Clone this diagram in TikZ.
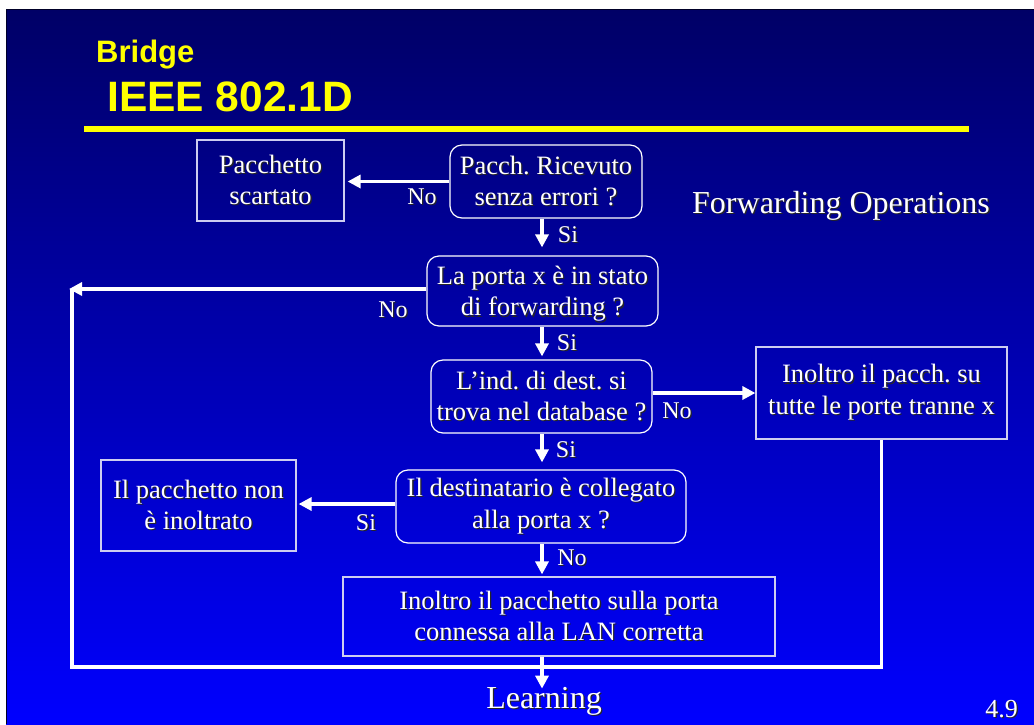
\documentclass[tikz,border=0pt]{standalone}
\usepackage{fontspec}
\setmainfont{Liberation Serif}
\newfontfamily\titlefont{Liberation Sans}
\usetikzlibrary{arrows.meta}

\definecolor{slidetop}{RGB}{0,0,102}
\definecolor{slidebot}{RGB}{0,0,255}
\definecolor{titleyellow}{RGB}{255,255,0}
\definecolor{boxline}{RGB}{205,205,240}
\definecolor{slideedge}{RGB}{0,0,40}

% white text with a small dark drop shadow
\newcommand\shtext[1]{\makebox[0pt][l]{\kern1.3pt\raisebox{-1.3pt}{\textcolor{black!85}{#1}}}#1}
\newcommand\bodyfont{\fontsize{26.5}{31.5}\selectfont}
\newcommand\lblfont{\fontsize{24}{28}\selectfont}
\frenchspacing

\begin{document}
\begin{tikzpicture}[x=1pt,y=-1pt,
  box/.style={draw=boxline, line width=1.2pt, text=white, align=center,
              font=\bodyfont, inner sep=0pt},
  rbox/.style={box, draw=white, rounded corners=12pt},
  lbl/.style={text=white, font=\lblfont, anchor=base, inner sep=0pt},
  flow/.style={draw=white, line width=3.2pt},
  arr/.style={flow, -{Triangle[length=13pt,width=13pt]}},
  bigtext/.style={text=white, font=\fontsize{32}{38}\selectfont, inner sep=0pt}]

\useasboundingbox (0,0) rectangle (1034,724);
\fill[white] (0,0) rectangle (1034,724);

% slide background
\shade[top color=slidetop, bottom color=slidebot] (6,9) rectangle (1034,724);
\draw[slideedge, line width=1pt] (6.5,724) -- (6.5,9.5) -- (1034,9.5);

% title
\node[anchor=base west, text=titleyellow, inner sep=0pt,
      font=\titlefont\bfseries\fontsize{31}{36}\selectfont] (ttlA) at (96,62) {Bridge};
\node[anchor=base west, text=titleyellow, inner sep=0pt,
      font=\titlefont\bfseries\fontsize{42.5}{48}\selectfont] (ttlB) at (107,111) {IEEE 802.1D};
\draw[titleyellow, line width=6pt] (84,129) -- (969,129);

\node[bigtext, anchor=base west] (fwd) at (692,213) {\shtext{Forwarding Operations}};

% flowchart boxes
\node[box, minimum width=147pt, minimum height=81pt] (scart) at (270.5,180.5)
  {\shtext{Pacchetto}\\\shtext{scartato}};
\node[rbox, minimum width=192pt, minimum height=73pt] (ricev) at (546,181.5)
  {\shtext{Pacch. Ricevuto}\\\shtext{senza errori ?}};
\node[rbox, minimum width=231pt, minimum height=70pt] (porta) at (542.5,291)
  {\shtext{La porta x è in stato}\\\smash{\shtext{di forwarding ?}}};
\node[rbox, minimum width=221pt, minimum height=73pt] (ind) at (541.5,396.5)
  {\shtext{L’ind. di dest. si}\\\shtext{trova nel database ?}};
\node[box, minimum width=251pt, minimum height=92pt] (tutte) at (881.5,393)
  {\shtext{Inoltro il pacch. su}\\\shtext{tutte le porte tranne x}};
\node[rbox, minimum width=290pt, minimum height=73pt] (dest) at (541,506.5)
  {\shtext{Il destinatario è collegato}\\\shtext{alla porta x ?}};
\node[box, minimum width=195pt, minimum height=91pt] (non) at (198.5,505.5)
  {\shtext{Il pacchetto non}\\\shtext{è inoltrato}};
\node[box, minimum width=432pt, minimum height=79pt] (lan) at (559,616.5)
  {\shtext{Inoltro il pacchetto sulla porta}\\\shtext{connessa alla LAN corretta}};

\node[bigtext, anchor=base] (learn) at (544,708) {\shtext{Learning}};
\node[text=white, font=\fontsize{26}{30}\selectfont, inner sep=0pt, anchor=base east]
  (pagenum) at (1018,717) {\shtext{4.9}};

% helper points for the connectors
\coordinate (colx) at (542,0);
\coordinate (cTL) at (69,289);
\coordinate (cBL) at (72,667);
\coordinate (rowind) at (0,393);
\coordinate (rowdest) at (0,504);

% main column
\draw[arr, shorten >=8pt] (ricev.south -| colx) -- (porta.north -| colx);
\draw[arr, shorten >=3pt] (porta.south -| colx) -- (ind.north -| colx);
\draw[arr, shorten >=7pt] (ind.south -| colx) -- (dest.north -| colx);
\draw[arr, shorten >=2pt] (dest.south -| colx) -- (lan.north -| colx);
\draw[arr, shorten >=-2pt] (lan.south -| colx) -- (learn.north -| colx);

% side branches
\draw[arr, shorten >=3pt] (ricev.west) -- (scart.east |- ricev.west);
\draw[arr] (ind.east |- rowind) -- (tutte.west |- rowind);
\draw[arr, shorten >=2pt] (dest.west |- rowdest) -- (non.east |- rowdest);
\draw[arr] (porta.west |- cTL) -- (cTL);

% return loop to learning
\draw[flow] (cBL |- cTL) -- (cBL) -- (cBL -| tutte.south) -- (tutte.south);

% branch labels
\node[lbl] (l1) at (422,204) {\shtext{No}};
\node[lbl] (l2) at (568,242) {\shtext{Si}};
\node[lbl] (l3) at (393,317) {\shtext{No}};
\node[lbl] (l4) at (567,350) {\shtext{Si}};
\node[lbl] (l5) at (677,418) {\shtext{No}};
\node[lbl] (l6) at (566,457) {\shtext{Si}};
\node[lbl] (l7) at (366,530) {\shtext{Si}};
\node[lbl] (l8) at (572,565) {\shtext{No}};
\end{tikzpicture}
\end{document}
